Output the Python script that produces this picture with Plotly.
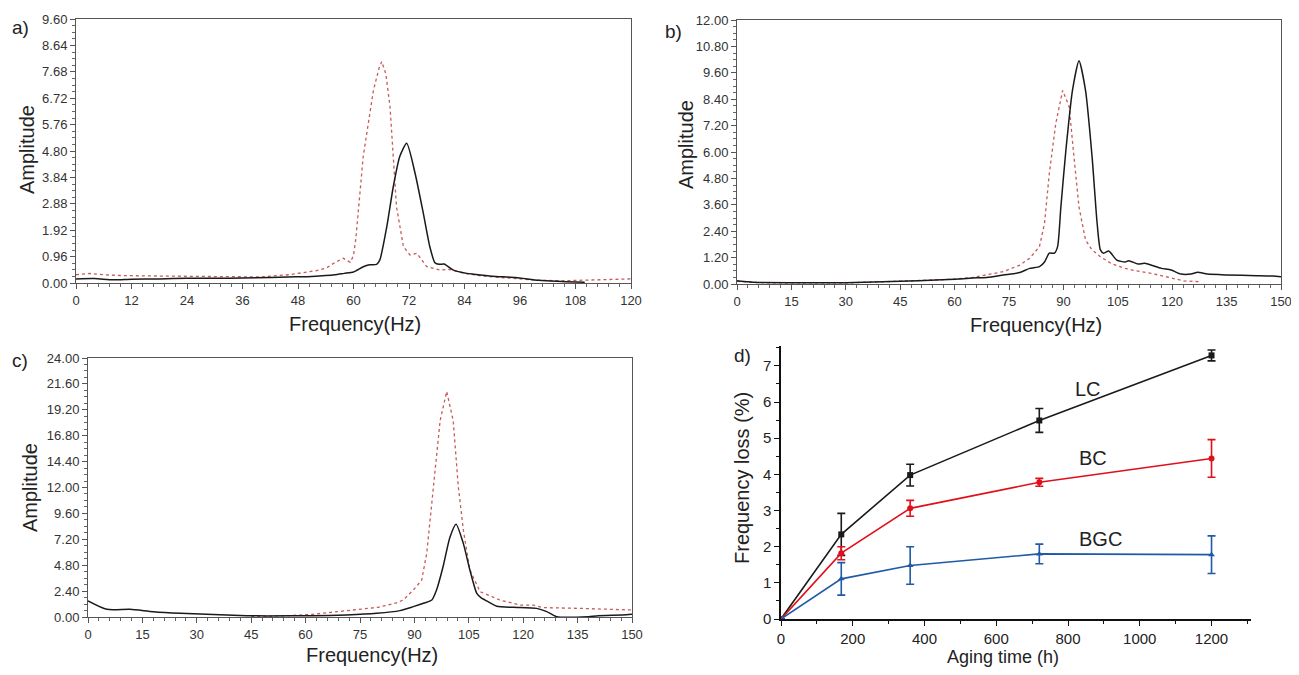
import plotly.graph_objects as go

# page body has an 8px margin; figure sized so that the page fits the 1299x675 window
OX, OY = 8, 8
W, H = 1299 - 2 * OX, 675 - 2 * OY

def px(x):
    return (x - OX) / W

def py(y):
    return (H - (y - OY)) / H

# ---------------- Panel a ----------------
a_x_black = [0, 4, 8, 12, 18, 24, 30, 36, 42, 46, 50, 54, 56, 58, 60, 62, 63.5, 65, 65.7, 67.2, 68.6, 70, 71.5,
             73.3, 75.1, 76.5, 77.6, 78.5, 79.6, 81.6, 84.5, 86, 90, 95, 100, 104, 108, 110]
a_y_black = [0.15, 0.16, 0.12, 0.14, 0.15, 0.17, 0.17, 0.18, 0.2, 0.22, 0.23, 0.27, 0.3, 0.35, 0.4, 0.58, 0.66, 0.68,
             0.84, 2.05, 3.5, 4.6, 5.08, 4.0, 2.53, 1.32, 0.74, 0.68, 0.69, 0.47, 0.35, 0.32, 0.25, 0.2, 0.1, 0.06, 0.04, 0.03]
a_x_red = [0, 3, 6, 10, 20, 30, 40, 46, 50, 52, 54.2, 56, 57.8, 59.3, 60, 60.5, 62.1, 64.3, 65.5, 66.1, 67, 67.9,
           69.3, 70.8, 72.2, 73.7, 75.8, 78.7, 80.5, 84, 88, 92, 96, 100, 105, 110, 115, 120]
a_y_red = [0.3, 0.35, 0.3, 0.27, 0.25, 0.23, 0.22, 0.3, 0.41, 0.45, 0.55, 0.75, 0.9, 0.75, 1.0, 1.6, 4.6, 7.0, 7.8,
           8.05, 7.6, 6.4, 2.77, 1.32, 1.02, 1.08, 0.6, 0.47, 0.5, 0.35, 0.25, 0.2, 0.15, 0.1, 0.08, 0.1, 0.13, 0.15]

# ---------------- Panel b ----------------
b_x_black = [0, 3, 6, 15, 30, 40, 50, 60, 65, 68.9, 73.4, 78, 80.7, 83.4, 84.8, 86.1, 87.5, 88.4, 89.3, 90.7, 92.5,
             94.3, 96.1, 97.9, 99.3, 100.2, 101.1, 102.5, 104.7, 107, 108, 110.6, 112.4, 117, 119.7, 122.4, 125.2,
             127, 129.7, 135.1, 143.3, 147.8, 150]
b_y_black = [0.15, 0.1, 0.07, 0.06, 0.06, 0.1, 0.15, 0.22, 0.27, 0.3, 0.41, 0.52, 0.71, 0.79, 1.0, 1.4, 1.4, 1.7,
             3.5, 6.1, 8.8, 10.15, 8.8, 5.8, 2.76, 1.55, 1.4, 1.5, 1.09, 1.0, 1.06, 0.91, 0.94, 0.71, 0.64, 0.45,
             0.45, 0.53, 0.45, 0.41, 0.38, 0.36, 0.33]
b_x_red = [0, 3, 6, 15, 30, 40, 50, 60, 65, 68.9, 73.4, 78, 80.7, 83.4, 84.8, 86.1, 87.9, 89.8, 91.6, 92.9, 94.3,
           96.1, 97.9, 100.2, 103.4, 107, 110, 114.3, 119.7, 123.3, 127.9]
b_y_red = [0.12, 0.08, 0.06, 0.05, 0.05, 0.1, 0.15, 0.22, 0.3, 0.41, 0.56, 0.86, 1.17, 1.7, 2.76, 5.0, 7.3, 8.8,
           8.06, 5.8, 3.5, 2.0, 1.55, 1.24, 0.91, 0.71, 0.6, 0.48, 0.26, 0.14, 0.1]

# ---------------- Panel c ----------------
c_x_black = [0, 5.2, 11.6, 18, 25.4, 32.7, 43.8, 49.3, 62.1, 71.3, 79.6, 86, 89.7, 92.5, 94.8, 96.1, 97.9, 99.8,
             101.5, 103.5, 105.3, 107.2, 108.5, 109.5, 112.7, 117.3, 123.7, 126.5, 129.2, 138, 140.2, 148.5, 150]
c_y_black = [1.5, 0.71, 0.71, 0.49, 0.34, 0.25, 0.12, 0.1, 0.12, 0.19, 0.34, 0.59, 0.96, 1.27, 1.57, 2.5, 4.66,
             7.4, 8.6, 6.8, 4.35, 2.19, 1.75, 1.57, 1.0, 0.9, 0.8, 0.5, 0.03, 0.03, 0.1, 0.2, 0.25]
c_x_red = [45, 55, 62, 71, 80, 85, 86.9, 89.7, 92, 93.4, 95.2, 97.1, 98.9, 100.7, 102.1, 103.5, 105.3, 108.1,
           113.6, 119.1, 122.8, 125.5, 135.6, 150]
c_y_red = [0.05, 0.12, 0.25, 0.56, 0.9, 1.3, 1.57, 2.5, 3.4, 5.9, 12.1, 18.2, 20.9, 18.2, 12.1, 8.05, 4.35, 2.35,
           1.57, 1.1, 1.1, 0.87, 0.8, 0.65]

# ---------------- Panel d ----------------
hours = [0, 168, 360, 720, 1200]
lc = [0, 2.34, 3.98, 5.49, 7.29]
lc_err = [0, 0.58, 0.3, 0.33, 0.15]
bc = [0, 1.82, 3.06, 3.78, 4.44]
bc_err = [0, 0.18, 0.22, 0.11, 0.52]
bgc = [0, 1.11, 1.48, 1.8, 1.78]
bgc_err = [0, 0.45, 0.52, 0.27, 0.52]
series_names = ["LC", "BC", "BGC"]
label_pos_x = [855, 870, 890]
label_pos_y = [6.35, 4.46, 2.2]

BLACK = "#1a1a1a"
RED_DOT = "rgb(200,90,90)"
NARROW = "Liberation Sans Narrow, Arial Narrow, Liberation Sans, sans-serif"
SANS = "Liberation Sans, Arial, sans-serif"

fig = go.Figure()

def spectrum(xb, yb, xr, yr, xa, ya):
    fig.add_trace(go.Scatter(x=xr, y=yr, mode="lines", xaxis=xa, yaxis=ya,
                             line=dict(color=RED_DOT, width=1.3, dash="dot"), showlegend=False))
    fig.add_trace(go.Scatter(x=xb, y=yb, mode="lines", xaxis=xa, yaxis=ya,
                             line=dict(color=BLACK, width=1.5, shape="spline", smoothing=0.6), showlegend=False))

spectrum(a_x_black, a_y_black, a_x_red, a_y_red, "x", "y")
spectrum(b_x_black, b_y_black, b_x_red, b_y_red, "x2", "y2")
spectrum(c_x_black, c_y_black, c_x_red, c_y_red, "x3", "y3")

d_colors = [BLACK, "#e0101a", "#1f5aa6"]
d_symbols = ["square", "circle", "triangle-up"]
for vals, errs, col, sym in zip([lc, bc, bgc], [lc_err, bc_err, bgc_err], d_colors, d_symbols):
    fig.add_trace(go.Scatter(x=hours, y=vals, mode="lines+markers", xaxis="x4", yaxis="y4",
                             line=dict(color=col, width=1.6),
                             marker=dict(symbol=sym, size=6, color=col),
                             error_y=dict(type="data", array=errs, visible=True, color=col,
                                          thickness=1.6, width=4),
                             showlegend=False))

def frame_axes(dom_x, dom_y, xr, xd, xminor, yr, yd, yminor, anchor_x, anchor_y):
    xa = dict(domain=dom_x, range=xr, dtick=xd, tick0=0, anchor=anchor_y, showline=True, mirror=True,
              linecolor="#555", linewidth=1, ticks="outside", ticklen=5, tickcolor="#555",
              showgrid=False, zeroline=False, automargin=False, ticklabeloverflow="allow",
              minor=dict(dtick=xminor, ticks="outside", ticklen=3, tickcolor="#666", showgrid=False),
              tickfont=dict(family=NARROW, size=13, color="#333"))
    ya = dict(domain=dom_y, range=yr, dtick=yd, tick0=0, anchor=anchor_x, showline=True, mirror=True,
              linecolor="#555", linewidth=1, ticks="outside", ticklen=5, tickcolor="#555",
              showgrid=False, zeroline=False, tickformat=".2f", automargin=False, ticklabeloverflow="allow",
              minor=dict(dtick=yminor, ticks="outside", ticklen=3, tickcolor="#666", showgrid=False),
              tickfont=dict(family=NARROW, size=13, color="#333"))
    return xa, ya

xa1, ya1 = frame_axes([px(76), px(631)], [py(283), py(19)], [0, 120], 12, 2.4, [0, 9.6], 0.96, 0.24, "x", "y")
xa2, ya2 = frame_axes([px(737), px(1281)], [py(284), py(20)], [0, 150], 15, 3, [0, 12], 1.2, 0.3, "x2", "y2")
xa3, ya3 = frame_axes([px(88), px(632)], [py(617), py(358)], [0, 150], 15, 3, [0, 24], 2.4, 0.6, "x3", "y3")

xa4 = dict(domain=[px(781), px(1251)], range=[0, 1310], dtick=200, tick0=0, anchor="y4", showline=True,
           linecolor="#111", linewidth=1.5, ticks="outside", ticklen=5, tickcolor="#111", showgrid=False,
           zeroline=False, automargin=False, minor=dict(dtick=100, ticks="outside", ticklen=3, tickcolor="#111"),
           tickfont=dict(family=SANS, size=15, color="#222"))
ya4 = dict(domain=[py(619), py(346)], range=[0, 7.55], dtick=1, tick0=0, anchor="x4", showline=True,
           linecolor="#111", linewidth=1.5, ticks="outside", ticklen=5, tickcolor="#111", showgrid=False,
           zeroline=False, automargin=False, minor=dict(dtick=0.5, ticks="outside", ticklen=3, tickcolor="#111"),
           tickfont=dict(family=SANS, size=15, color="#222"))

ann = []
def txt(x, y, s, size=20, angle=0, xref="paper", yref="paper", family=SANS):
    ann.append(dict(x=x, y=y, xref=xref, yref=yref, text=s, showarrow=False, textangle=angle,
                    font=dict(family=family, size=size, color="#222"), xanchor="center", yanchor="middle"))

# axis titles
txt(px(27), py(150), "Amplitude", angle=-90)
txt(px(355), py(324), "Frequency(Hz)")
txt(px(686), py(145), "Amplitude", angle=-90)
txt(px(1036), py(325), "Frequency(Hz)")
txt(px(30), py(488), "Amplitude", angle=-90)
txt(px(372), py(655), "Frequency(Hz)")
txt(px(742), py(478), "Frequency loss (%)", angle=-90)
txt(px(1003), py(657), "Aging time (h)", size=18)
# panel labels
txt(px(20), py(28), "a)", size=19)
txt(px(673), py(32), "b)", size=19)
txt(px(20), py(360), "c)", size=19)
txt(px(742), py(355), "d)", size=19)
# series labels in d
for name, lx, ly in zip(series_names, label_pos_x, label_pos_y):
    txt(lx, ly, name, size=20, xref="x4", yref="y4")

fig.update_layout(
    width=W, height=H, margin=dict(l=0, r=0, t=0, b=0, autoexpand=False),
    paper_bgcolor="white", plot_bgcolor="white", showlegend=False,
    xaxis=xa1, yaxis=ya1, xaxis2=xa2, yaxis2=ya2, xaxis3=xa3, yaxis3=ya3, xaxis4=xa4, yaxis4=ya4,
    annotations=ann,
)

fig.write_html("out.html")
